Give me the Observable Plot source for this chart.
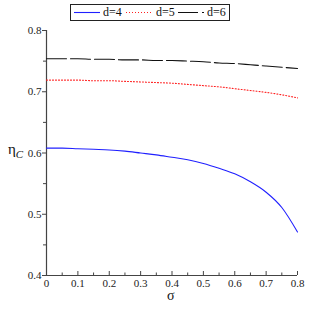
<!DOCTYPE html>
<html><head><meta charset="utf-8">
<script src="https://cdn.jsdelivr.net/npm/d3@7"></script>
<script src="https://cdn.jsdelivr.net/npm/@observablehq/plot@0.6"></script>
<style>
body{margin:0;background:#fff;}
#wrap{position:relative;width:309px;height:309px;font-family:"Liberation Serif","DejaVu Serif",serif;}
#wrap svg, #wrap svg text{font-family:"Liberation Serif",serif !important;}
#legend{position:absolute;left:70px;top:4px;width:158px;height:15px;border:1px solid #222;background:#fff;font-size:12px;line-height:15px;color:#111;}
#legend span{position:absolute;top:0;}
#ylab{position:absolute;left:8px;top:142px;font-size:15px;line-height:15px;color:#111;}
#xlab{position:absolute;left:167px;top:289px;font-size:14px;line-height:14px;color:#111;}
</style></head>
<body><div id="wrap"></div>
<script>
const sigma = [0,0.05,0.1,0.15,0.2,0.25,0.3,0.35,0.4,0.45,0.5,0.55,0.6,0.65,0.7,0.75,0.8];
const d4 = [0.608,0.608,0.607,0.606,0.605,0.603,0.600,0.597,0.593,0.589,0.583,0.575,0.566,0.553,0.536,0.511,0.471];
const d5 = [0.719,0.719,0.719,0.718,0.718,0.717,0.716,0.715,0.714,0.712,0.710,0.708,0.705,0.702,0.699,0.695,0.690];
const d6 = [0.754,0.754,0.754,0.753,0.753,0.752,0.752,0.751,0.751,0.750,0.749,0.747,0.746,0.744,0.742,0.740,0.738];
const seriesNames = ["d=4","d=5","d=6"];
const xTicks = [0,0.1,0.2,0.3,0.4,0.5,0.6,0.7,0.8];
const xMinor = [0.05,0.15,0.25,0.35,0.45,0.55,0.65,0.75];
const yTicks = [0.4,0.5,0.6,0.7,0.8];
const yMinor = [0.45,0.55,0.65,0.75];

const FONT = "Liberation Serif, serif";
const rows = (vals) => sigma.map((s,i)=>({s, v: vals[i]}));
const chart = Plot.plot({
  width: 309, height: 309,
  marginLeft: 46, marginRight: 12, marginTop: 30, marginBottom: 34,
  style: {fontFamily: FONT, fontSize: "11px", color: "#222"},
  x: {domain: [0, 0.8]},
  y: {domain: [0.4, 0.8]},
  marks: [
    Plot.axisY(yTicks, {tickSize: 4, tickFormat: d => d.toFixed(1), label: null, tickPadding: 1, stroke: "#444", fontFamily: FONT, fontSize: 11}),
    Plot.axisY(yMinor, {tickSize: 3, tickFormat: () => "", label: null, stroke: "#444"}),
    Plot.axisX(xTicks, {tickSize: -4, tickFormat: d => d === 0 ? "0" : d.toFixed(1), label: null, tickPadding: 8, stroke: "#444", fontFamily: FONT, fontSize: 11}),
    Plot.axisX(xMinor, {tickSize: -2.5, tickFormat: () => "", label: null, stroke: "#444"}),
    Plot.ruleX([0], {stroke: "#444", strokeWidth: 1.2}),
    Plot.ruleY([0.4], {stroke: "#444", strokeWidth: 1.2}),
    Plot.line(rows(d4), {x: "s", y: "v", stroke: "#2020ff", strokeWidth: 1.1, curve: "monotone-x"}),
    Plot.line(rows(d5), {x: "s", y: "v", stroke: "#ff2020", strokeWidth: 1.1, strokeDasharray: "1,2", curve: "monotone-x"}),
    Plot.line(rows(d6), {x: "s", y: "v", stroke: "#111", strokeWidth: 1.1, strokeDasharray: "20,4", curve: "monotone-x"})
  ]
});
const wrap = document.getElementById("wrap");
wrap.appendChild(chart);

const leg = document.createElement("div");
leg.id = "legend";
const styles = [
  {c:"#2020ff", dash:"", lx:3, tx:32},
  {c:"#ff2020", dash:"1,2", lx:55, tx:85},
  {c:"#111", dash:"20,4", lx:107, tx:136}
];
let svgLines = '<svg width="158" height="15" style="position:absolute;left:0;top:0">';
styles.forEach(s => {
  svgLines += `<line x1="${s.lx}" x2="${s.lx+26}" y1="7.5" y2="7.5" stroke="${s.c}" stroke-width="1.1" ${s.dash?`stroke-dasharray="${s.dash}"`:""}/>`;
});
svgLines += '</svg>';
leg.innerHTML = svgLines + seriesNames.map((n,i)=>`<span style="left:${styles[i].tx}px">${n}</span>`).join("");
wrap.appendChild(leg);

const yl = document.createElement("div");
yl.id = "ylab";
yl.innerHTML = 'η<sub style="font-size:11px;font-style:italic;vertical-align:-4px">C</sub>';
wrap.appendChild(yl);
const xl = document.createElement("div");
xl.id = "xlab";
xl.textContent = "σ";
wrap.appendChild(xl);
</script></body></html>
